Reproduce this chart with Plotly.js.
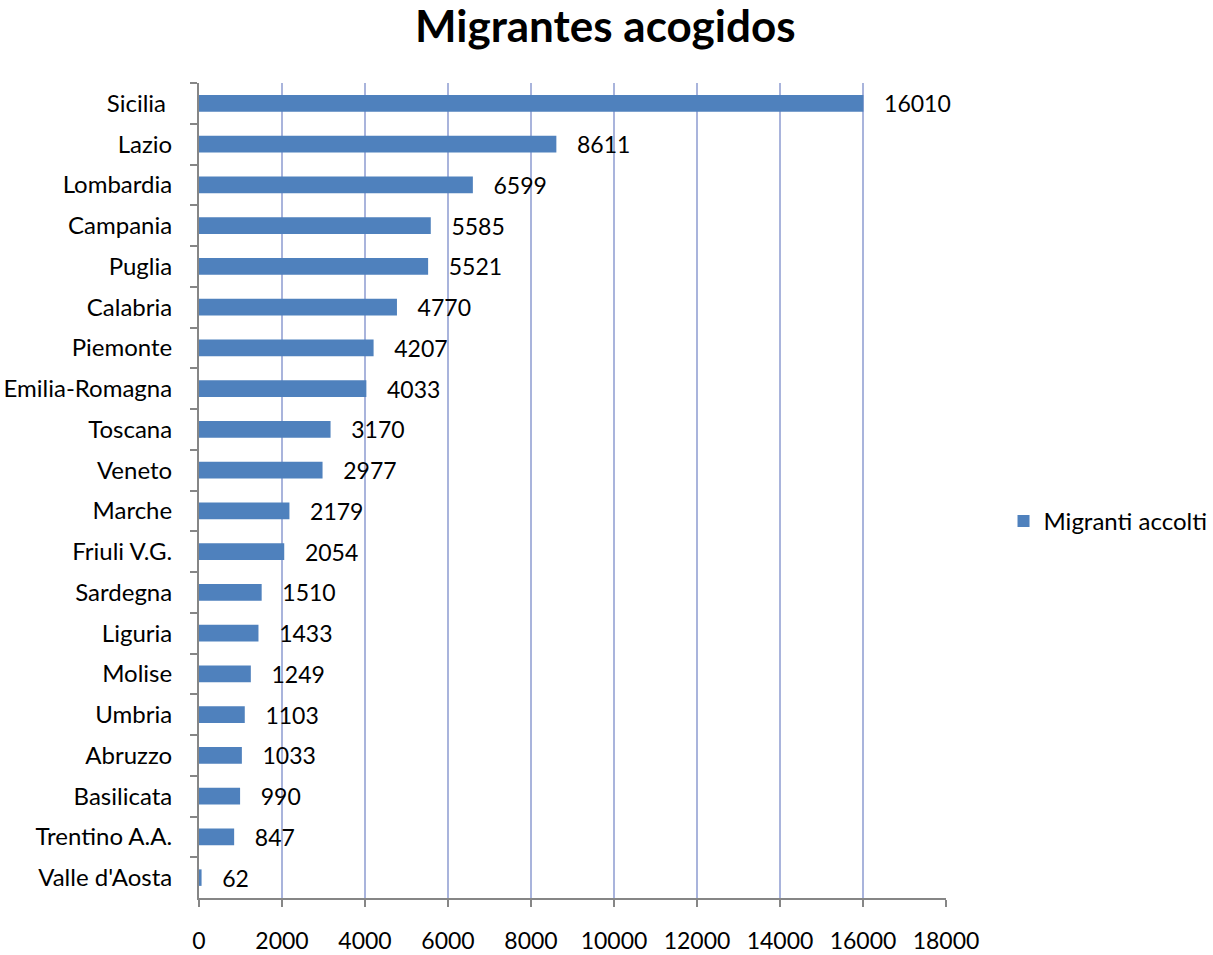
<!DOCTYPE html>
<html>
<head>
<meta charset="utf-8">
<script src="https://cdn.plot.ly/plotly-3.0.1.min.js"></script>
<style>html,body{margin:0;padding:0;background:#fff;}#chart{width:1213px;height:955px;}</style>
</head>
<body>
<div id="chart"></div>
<script>
const regions = ["Sicilia\u00a0", "Lazio", "Lombardia", "Campania", "Puglia", "Calabria", "Piemonte",
  "Emilia-Romagna", "Toscana", "Veneto", "Marche", "Friuli V.G.", "Sardegna", "Liguria",
  "Molise", "Umbria", "Abruzzo", "Basilicata", "Trentino A.A.", "Valle d'Aosta"];
const migrants = [16010, 8611, 6599, 5585, 5521, 4770, 4207, 4033, 3170, 2977, 2179, 2054,
  1510, 1433, 1249, 1103, 1033, 990, 847, 62];
const seriesName = "Migranti accolti";
const chartTitle = "Migrantes acogidos";
const xTicks = [0, 2000, 4000, 6000, 8000, 10000, 12000, 14000, 16000, 18000];

const FONT = "Lato, 'Open Sans', sans-serif";

const trace = {
  type: "bar",
  orientation: "h",
  name: seriesName,
  x: migrants,
  y: regions,
  marker: {color: "#4f81bd"},
  text: migrants.map(v => "\u00a0\u00a0\u00a0" + v),
  textposition: "outside",
  textangle: 0,
  constraintext: "none",
  cliponaxis: false,
  textfont: {family: FONT, size: 23, color: "#000"},
  hoverinfo: "x+y",
  showlegend: true
};

const layout = {
  width: 1213,
  height: 955,
  paper_bgcolor: "#fff",
  plot_bgcolor: "#fff",
  margin: {l: 199, r: 267, t: 83, b: 57, autoexpand: false},
  font: {family: FONT, size: 24, color: "#000"},
  title: {
    text: "<b>" + chartTitle + "</b>",
    font: {family: FONT, size: 44, color: "#000"},
    x: 0.499, xanchor: "center",
    y: 0.972, yanchor: "middle"
  },
  bargap: 0.595,
  showlegend: true,
  legend: {
    x: 1.077, xanchor: "left",
    y: 0.462, yanchor: "middle",
    font: {family: FONT, size: 24, color: "#000"},
    bgcolor: "rgba(0,0,0,0)"
  },
  xaxis: {
    range: [0, 18000],
    tickvals: xTicks,
    ticktext: xTicks.map(String),
    showgrid: true,
    gridcolor: "#a9b4dc",
    gridwidth: 2,
    zeroline: false,
    showline: true,
    linecolor: "#868686",
    linewidth: 2,
    ticks: "outside",
    ticklen: 7,
    tickwidth: 2,
    tickcolor: "#868686",
    ticklabelstandoff: 14,
    tickfont: {family: FONT, size: 23, color: "#000"},
    automargin: false,
    fixedrange: true
  },
  yaxis: {
    type: "category",
    autorange: "reversed",
    showgrid: false,
    zeroline: false,
    showline: true,
    linecolor: "#868686",
    linewidth: 2,
    ticks: "outside",
    tickson: "boundaries",
    ticklen: 7,
    tickwidth: 2,
    tickcolor: "#868686",
    ticklabelstandoff: 20,
    tickfont: {family: FONT, size: 24, color: "#000"},
    automargin: false,
    fixedrange: true
  }
};

Plotly.newPlot("chart", [trace], layout, {displayModeBar: false, responsive: false});
</script>
</body>
</html>
